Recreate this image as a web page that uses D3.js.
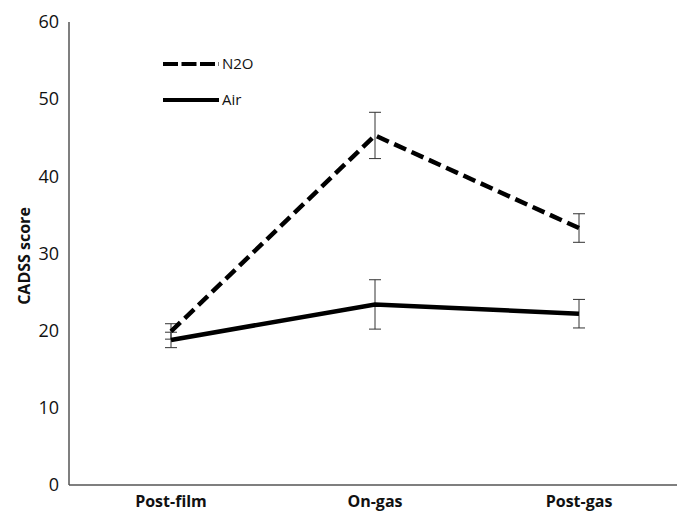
<!DOCTYPE html>
<html>
<head>
<meta charset="utf-8">
<script src="https://cdnjs.cloudflare.com/ajax/libs/d3/7.8.5/d3.min.js"></script>
<style>
body { margin: 0; background: #fff; }
text { font-family: "Open Sans", sans-serif; }
</style>
</head>
<body>
<div id="chart"></div>
<script>
var categories = ["Post-film", "On-gas", "Post-gas"];
var n2oMean = [19.9, 45.3, 33.3];
var n2oErr = [1.0, 3.0, 1.85];
var airMean = [18.8, 23.4, 22.2];
var airErr = [1.0, 3.2, 1.85];
var yTicks = [0, 10, 20, 30, 40, 50, 60];

var width = 677, height = 514;
var svg = d3.select("#chart").append("svg")
    .attr("width", width)
    .attr("height", height);

var x = d3.scalePoint().domain(categories).range([171, 579]);
var y = d3.scaleLinear().domain([0, 60]).range([485, 22]);

// axes lines
svg.append("line")
    .attr("x1", 69).attr("x2", 69)
    .attr("y1", y(60)).attr("y2", y(0))
    .attr("stroke", "#555").attr("stroke-width", 1.5);
svg.append("line")
    .attr("x1", 69).attr("x2", 677)
    .attr("y1", y(0)).attr("y2", y(0))
    .attr("stroke", "#555").attr("stroke-width", 1.5);

// y tick labels
svg.selectAll(".ytick").data(yTicks).enter().append("text")
    .attr("class", "ytick")
    .attr("x", 59)
    .attr("y", function(d) { return y(d); })
    .attr("dy", "0.35em")
    .attr("text-anchor", "end")
    .attr("font-size", "18px")
    .attr("fill", "#111")
    .text(function(d) { return d; });

// x labels
svg.selectAll(".xtick").data(categories).enter().append("text")
    .attr("class", "xtick")
    .attr("x", function(d) { return x(d); })
    .attr("y", 501)
    .attr("dy", "0.35em")
    .attr("text-anchor", "middle")
    .attr("font-size", "16px")
    .attr("font-weight", "bold")
    .attr("fill", "#111")
    .text(function(d) { return d; });

svg.append("text")
    .attr("transform", "translate(24," + 256 + ") rotate(-90)")
    .attr("text-anchor", "middle")
    .attr("dy", "0.35em")
    .attr("font-size", "16px")
    .attr("font-weight", "bold")
    .attr("fill", "#111")
    .text("CADSS score");

var series = [
    {name: "N2O", mean: n2oMean, err: n2oErr, dash: "13,6"},
    {name: "Air", mean: airMean, err: airErr, dash: null}
];

var line = d3.line()
    .x(function(d, i) { return x(categories[i]); })
    .y(function(d) { return y(d); });

series.forEach(function(s) {
    // error bars
    var g = svg.append("g");
    s.mean.forEach(function(m, i) {
        var cx = x(categories[i]);
        g.append("line")
            .attr("x1", cx).attr("x2", cx)
            .attr("y1", y(m - s.err[i])).attr("y2", y(m + s.err[i]))
            .attr("stroke", "#333").attr("stroke-width", 1);
        [m - s.err[i], m + s.err[i]].forEach(function(v) {
            g.append("line")
                .attr("x1", cx - 6).attr("x2", cx + 6)
                .attr("y1", y(v)).attr("y2", y(v))
                .attr("stroke", "#333").attr("stroke-width", 1);
        });
    });
});

series.forEach(function(s) {
    svg.append("path")
        .datum(s.mean)
        .attr("d", line)
        .attr("fill", "none")
        .attr("stroke", "#000")
        .attr("stroke-width", 4.5)
        .attr("stroke-dasharray", s.dash);
});

// legend
var legend = svg.append("g");
series.forEach(function(s, i) {
    var ly = 64 + i * 36;
    legend.append("line")
        .attr("x1", 163).attr("x2", 219)
        .attr("y1", ly).attr("y2", ly)
        .attr("stroke", "#000")
        .attr("stroke-width", 4)
        .attr("stroke-dasharray", s.dash ? "15,3.5" : null);
    legend.append("text")
        .attr("x", 222)
        .attr("y", ly)
        .attr("dy", "0.35em")
        .attr("font-size", "15px")
        .attr("fill", "#111")
        .text(s.name);
});
</script>
</body>
</html>
